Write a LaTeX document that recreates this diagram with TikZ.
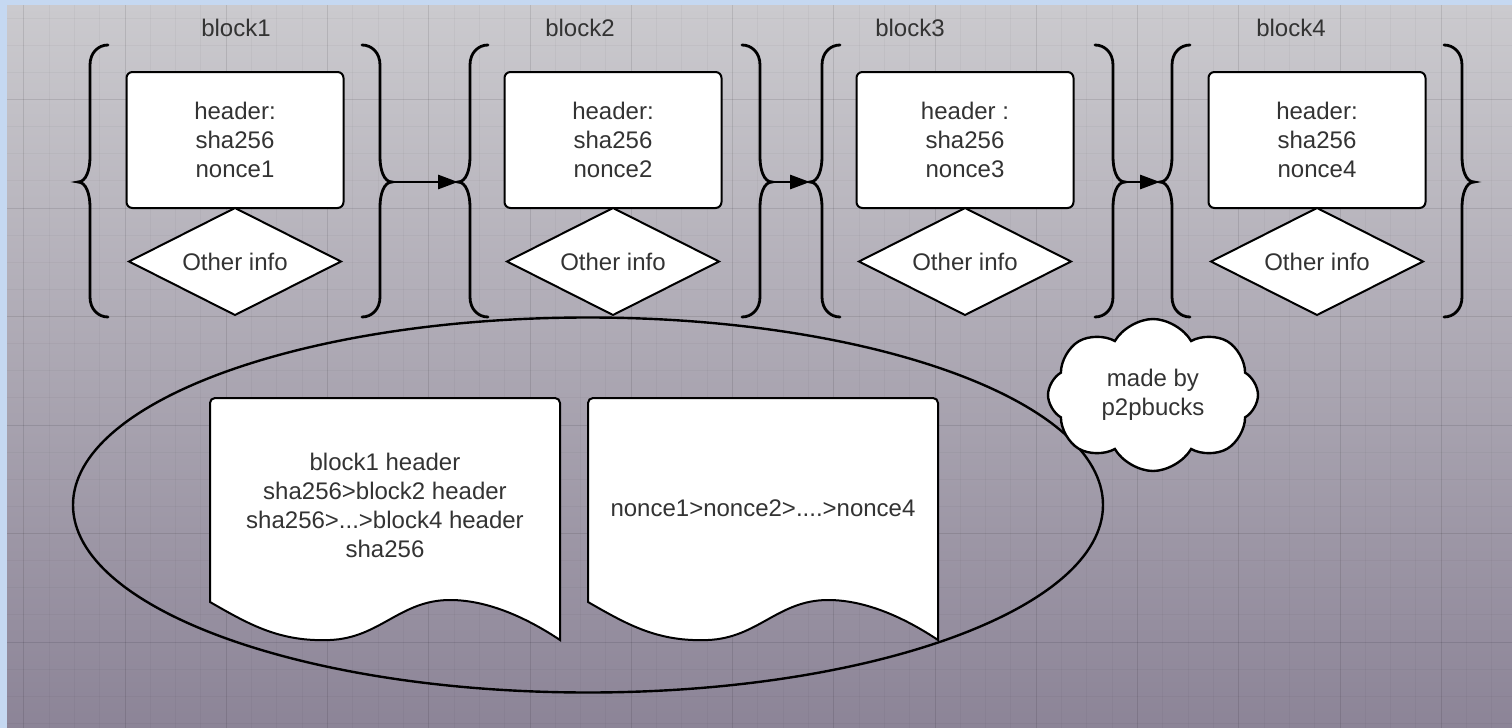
\documentclass[tikz,border=0pt]{standalone}
\usepackage{fontspec}
\setmainfont{Liberation Sans}
\usetikzlibrary{positioning,shapes.geometric,shapes.symbols,arrows.meta}
\definecolor{bgblue}{HTML}{C5D8F1}
\definecolor{bgtop}{HTML}{CBCACE}
\definecolor{bgbot}{HTML}{8C8497}
\definecolor{txtgray}{HTML}{333333}
% left brace: x of the stem, name of the tip
\newcommand{\lbrc}[2]{\draw[brc] (#1+18,45) .. controls (#1+8,45) and (#1,53) .. (#1,65) -- (#1,157) .. controls (#1,170) and (#1-4,182) .. (#1-12,182) coordinate (#2) .. controls (#1-4,182) and (#1,194) .. (#1,207) -- (#1,297) .. controls (#1,309) and (#1+8,317) .. (#1+18,317);}
% right brace: x of the stem, name of the tip
\newcommand{\rbrc}[2]{\draw[brc] (#1-18,45) .. controls (#1-8,45) and (#1,53) .. (#1,65) -- (#1,157) .. controls (#1,170) and (#1+4,182) .. (#1+12,182) coordinate (#2) .. controls (#1+4,182) and (#1,194) .. (#1,207) -- (#1,297) .. controls (#1,309) and (#1-8,317) .. (#1-18,317);}
\begin{document}
\begin{tikzpicture}[x=0.5pt,y=-0.5pt,
  every node/.style={font=\fontsize{12}{14.5}\selectfont,text=txtgray,align=center},
  brc/.style={line width=1.4pt,line cap=round},
  hdr/.style={draw=black,fill=white,line width=1pt,rounded corners=3pt,minimum width=108.5pt,minimum height=68pt,inner sep=0pt,outer sep=0pt},
  info/.style={diamond,aspect=2,draw=black,fill=white,line width=1pt,minimum width=106pt,minimum height=53.5pt,inner sep=0pt,outer sep=0pt},
  docbox/.style={draw=black,fill=white,line width=1pt},
  minorgrid/.style={black,opacity=0.03,line width=0.5pt},
  majorgrid/.style={black,opacity=0.07,line width=0.5pt},
  >={Triangle[length=10pt,width=7pt]}]
\useasboundingbox (0,0) rectangle (1512,728);
% Background
\fill[bgblue] (0,0) rectangle (1512,728);
\shade[top color=bgtop,bottom color=bgbot] (7,5) rectangle (1512,728);
\foreach \k in {0,...,58} \draw[minorgrid] ({23.75+\k*25.3125},5) -- ({23.75+\k*25.3125},728);
\foreach \k in {0,...,26} \draw[minorgrid] (7,{18.125+\k*27.125}) -- (1512,{18.125+\k*27.125});
\foreach \k in {0,...,14} \draw[majorgrid] ({23.75+\k*101.25},5) -- ({23.75+\k*101.25},728);
\foreach \k in {0,...,5} \draw[majorgrid] (7,{99.5+\k*108.5}) -- (1512,{99.5+\k*108.5});
% Block 1
\node (t1) at (236,28) {block1};
\node[hdr] (h1) at (235,140) {header:\\sha256\\nonce1};
\node[info,below=0pt of h1] (o1) {Other info};
\lbrc{90}{l1} \rbrc{380}{r1}
% Block 2
\node (t2) at (580,28) {block2};
\node[hdr] (h2) at (613,140) {header:\\sha256\\nonce2};
\node[info,below=0pt of h2] (o2) {Other info};
\lbrc{470}{l2} \rbrc{760}{r2}
% Block 3
\node (t3) at (910,28) {block3};
\node[hdr] (h3) at (965,140) {header :\\sha256\\nonce3};
\node[info,below=0pt of h3] (o3) {Other info};
\lbrc{822}{l3} \rbrc{1113}{r3}
% Block 4
\node (t4) at (1291,28) {block4};
\node[hdr] (h4) at (1317,140) {header:\\sha256\\nonce4};
\node[info,below=0pt of h4] (o4) {Other info};
\lbrc{1172}{l4} \rbrc{1462}{r4}
% Chain arrows
\draw[->,line width=1.4pt] (r1) -- (l2);
\draw[->,line width=1.4pt] (r2) -- (l3);
\draw[->,line width=1.4pt] (r3) -- (l4);
% Summary
\node[ellipse,draw=black,line width=1.2pt,minimum width=515pt,minimum height=187.5pt] (sum) at (588,505) {};
\draw[docbox] (210,602) [rounded corners=2.5pt] -- (210,398) -- (560,398) [sharp corners] -- (560,640) .. controls (530,620) and (490,600) .. (450,600) .. controls (400,600) and (380,638) .. (330,640) .. controls (280,642) and (250,625) .. (210,602) -- cycle;
\node (d1) at (385,505) {block1 header\\sha256>block2 header\\sha256>...>block4 header\\sha256};
\draw[docbox] (588,602) [rounded corners=2.5pt] -- (588,398) -- (938,398) [sharp corners] -- (938,640) .. controls (908,620) and (868,600) .. (828,600) .. controls (778,600) and (758,638) .. (708,640) .. controls (658,642) and (628,625) .. (588,602) -- cycle;
\node (d2) at (763,508) {nonce1>nonce2>....>nonce4};
% Cloud
\node[cloud,draw=black,fill=white,line width=1.2pt,cloud puffs=8,cloud puff arc=120,aspect=1.4,minimum width=105pt,minimum height=76pt,inner sep=0pt] (mk) at (1153,395) {made by\\p2pbucks};
\end{tikzpicture}
\end{document}
